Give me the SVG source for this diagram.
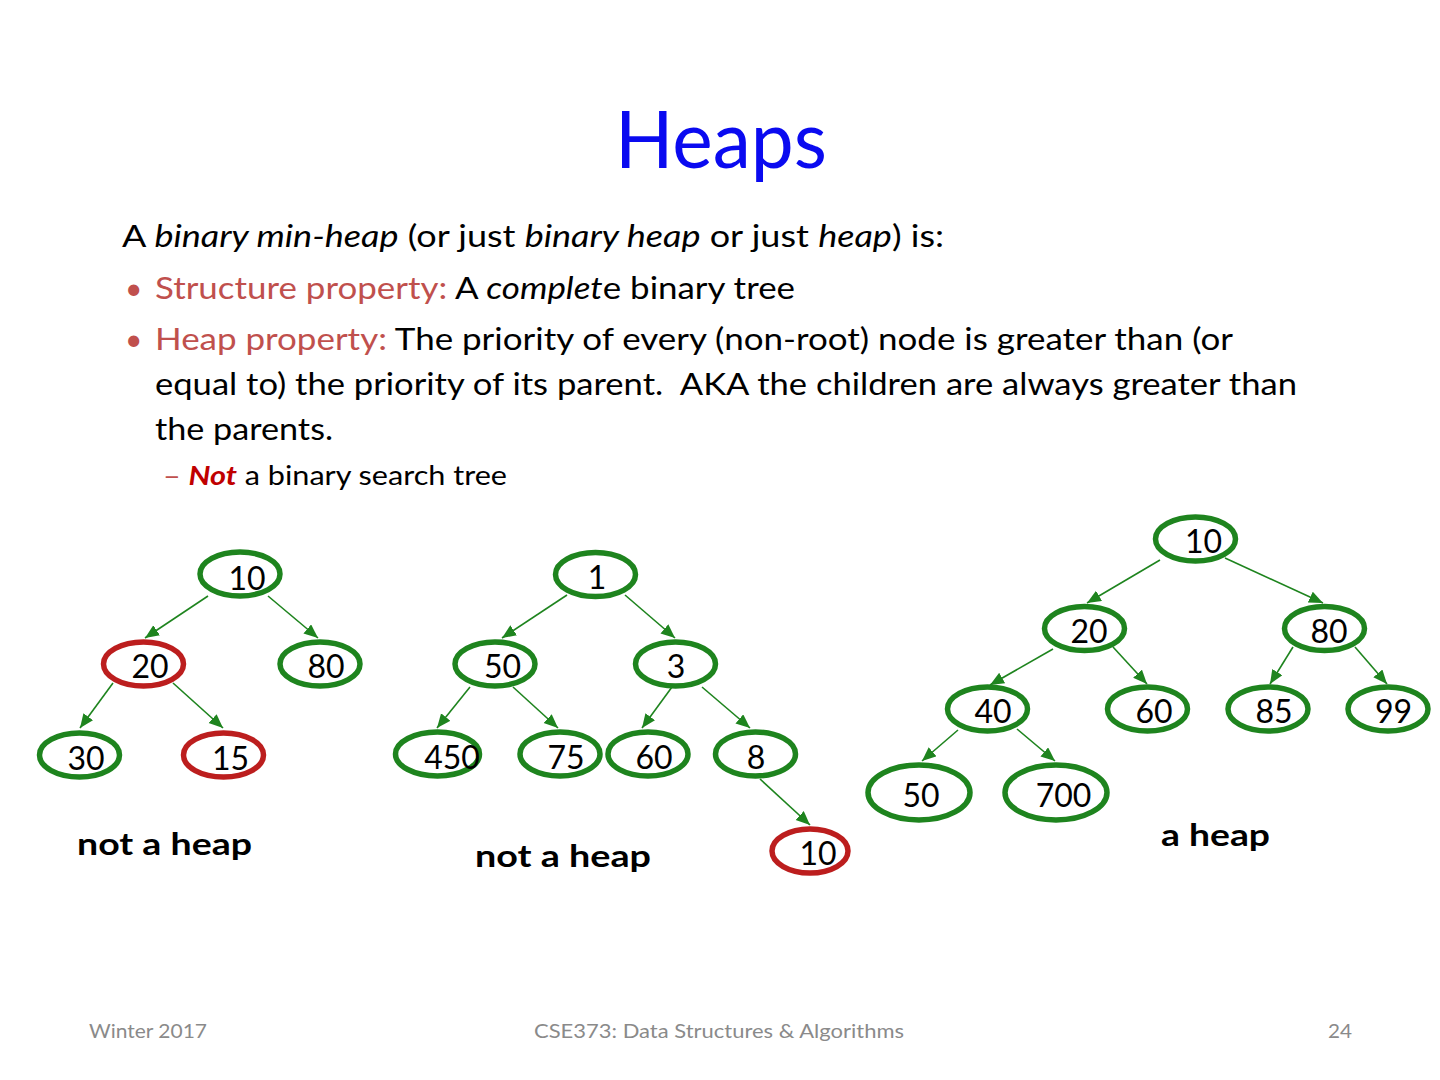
<svg xmlns="http://www.w3.org/2000/svg" width="1440" height="1080" viewBox="0 0 1440 1080">
<defs>
<style>
text{font-family:Lato,"Open Sans","Liberation Sans",sans-serif;}
.title{font-size:80px;fill:#0A0AF0;}
.body{font-size:30px;fill:#000;}
.sub{font-size:26px;fill:#000;}
.prop{fill:#C0504D;}
.it{font-style:italic;}
.num{font-size:32px;fill:#000;text-anchor:middle;}
.lbl{font-size:31px;font-weight:bold;fill:#000;}
.foot{font-size:19px;fill:#8A8A8A;}
.ng{fill:#fff;stroke:#1E841E;stroke-width:5.5;}
.nr{fill:#fff;stroke:#BC1E1E;stroke-width:5.5;}
.edge{stroke:#1E841E;stroke-width:1.6;fill:none;marker-end:url(#ah);}
</style>
<marker id="ah" markerUnits="userSpaceOnUse" markerWidth="16" markerHeight="14" refX="14" refY="6" orient="auto">
<path d="M0,0 L14,6 L0,12 Z" fill="#1E841E"/>
</marker>
</defs>
<rect width="1440" height="1080" fill="#fff"/>

<text class="title" x="615" y="168" textLength="212" lengthAdjust="spacingAndGlyphs">Heaps</text>

<text class="body" x="122" y="247" textLength="822" lengthAdjust="spacingAndGlyphs">A <tspan class="it">binary min-heap</tspan> (or just <tspan class="it">binary heap</tspan> or just <tspan class="it">heap</tspan>) is:</text>
<text class="body prop" x="125" y="299">•</text>
<text class="body" x="155" y="299" textLength="640" lengthAdjust="spacingAndGlyphs"><tspan class="prop">Structure property:</tspan> A <tspan class="it">complet</tspan>e binary tree</text>
<text class="body prop" x="125" y="350">•</text>
<text class="body" x="155" y="350" textLength="1078" lengthAdjust="spacingAndGlyphs"><tspan class="prop">Heap property:</tspan> The priority of every (non-root) node is greater than (or</text>
<text class="body" x="155" y="395" textLength="1142" lengthAdjust="spacingAndGlyphs" xml:space="preserve">equal to) the priority of its parent.  AKA the children are always greater than</text>
<text class="body" x="155" y="440" textLength="178" lengthAdjust="spacingAndGlyphs">the parents.</text>
<text class="sub" x="163" y="485" textLength="344" lengthAdjust="spacingAndGlyphs"><tspan class="prop">–</tspan> <tspan font-weight="bold" font-style="italic" fill="#C00000">Not</tspan> a binary search tree</text>

<g id="connectors">
<line class="edge" x1="208" y1="596" x2="145" y2="638"/>
<line class="edge" x1="268" y1="596" x2="318" y2="638"/>
<line class="edge" x1="113" y1="683" x2="80" y2="728"/>
<line class="edge" x1="173" y1="683" x2="223" y2="728"/>

<line class="edge" x1="567" y1="595" x2="502" y2="638"/>
<line class="edge" x1="625" y1="595" x2="675" y2="638"/>
<line class="edge" x1="470" y1="687" x2="437" y2="728"/>
<line class="edge" x1="513" y1="687" x2="558" y2="728"/>
<line class="edge" x1="672" y1="687" x2="642" y2="728"/>
<line class="edge" x1="702" y1="687" x2="750" y2="728"/>
<line class="edge" x1="760" y1="779" x2="810" y2="825"/>

<line class="edge" x1="1160" y1="560" x2="1087" y2="603"/>
<line class="edge" x1="1225" y1="558" x2="1323" y2="603"/>
<line class="edge" x1="1053" y1="649" x2="990" y2="685"/>
<line class="edge" x1="1113" y1="647" x2="1147" y2="684"/>
<line class="edge" x1="1293" y1="647" x2="1270" y2="684"/>
<line class="edge" x1="1355" y1="647" x2="1387" y2="684"/>
<line class="edge" x1="958" y1="730" x2="922" y2="761"/>
<line class="edge" x1="1017" y1="729" x2="1055" y2="761"/>
</g>

<!-- Tree 1 -->
<g id="t1-10"><ellipse class="ng" cx="240" cy="574" rx="40" ry="22"/><text class="num" x="247" y="590">10</text></g>
<g id="t1-20"><ellipse class="nr" cx="143.5" cy="664" rx="40" ry="22"/><text class="num" x="150" y="678">20</text></g>
<g id="t1-80"><ellipse class="ng" cx="320" cy="664" rx="40" ry="22"/><text class="num" x="326" y="678">80</text></g>
<g id="t1-30"><ellipse class="ng" cx="79.5" cy="755" rx="40" ry="22"/><text class="num" x="86" y="770">30</text></g>
<g id="t1-15"><ellipse class="nr" cx="223.5" cy="755" rx="40" ry="22"/><text class="num" x="230.5" y="770">15</text></g>
<text class="lbl" x="77" y="855" textLength="175" lengthAdjust="spacingAndGlyphs">not a heap</text>

<!-- Tree 2 -->
<g id="t2-1"><ellipse class="ng" cx="595.5" cy="574.5" rx="40" ry="22"/><text class="num" x="597" y="589">1</text></g>
<g id="t2-50"><ellipse class="ng" cx="495" cy="664" rx="40" ry="22"/><text class="num" x="502.5" y="678">50</text></g>
<g id="t2-3"><ellipse class="ng" cx="675.5" cy="664" rx="40" ry="22"/><text class="num" x="676" y="678">3</text></g>
<g id="t2-450"><ellipse class="ng" cx="437.5" cy="754" rx="42" ry="22"/><text class="num" x="452" y="769">450</text></g>
<g id="t2-75"><ellipse class="ng" cx="560" cy="754" rx="40" ry="22"/><text class="num" x="566" y="769">75</text></g>
<g id="t2-60"><ellipse class="ng" cx="648" cy="754" rx="40" ry="22"/><text class="num" x="654" y="769">60</text></g>
<g id="t2-8"><ellipse class="ng" cx="755.5" cy="754" rx="40" ry="22"/><text class="num" x="756" y="769">8</text></g>
<g id="t2-10"><ellipse class="nr" cx="810" cy="851" rx="38" ry="22"/><text class="num" x="818" y="865">10</text></g>
<text class="lbl" x="475" y="867" textLength="176" lengthAdjust="spacingAndGlyphs">not a heap</text>

<!-- Tree 3 -->
<g id="t3-10"><ellipse class="ng" cx="1195.5" cy="539" rx="40" ry="22"/><text class="num" x="1203.5" y="553">10</text></g>
<g id="t3-20"><ellipse class="ng" cx="1084.5" cy="628.5" rx="40" ry="22"/><text class="num" x="1089" y="643">20</text></g>
<g id="t3-80"><ellipse class="ng" cx="1324.5" cy="628.5" rx="40" ry="22"/><text class="num" x="1329" y="643">80</text></g>
<g id="t3-40"><ellipse class="ng" cx="987.5" cy="709" rx="40" ry="22"/><text class="num" x="993" y="723">40</text></g>
<g id="t3-60"><ellipse class="ng" cx="1147.5" cy="709" rx="40" ry="22"/><text class="num" x="1154" y="723">60</text></g>
<g id="t3-85"><ellipse class="ng" cx="1268" cy="709" rx="40" ry="22"/><text class="num" x="1274" y="723">85</text></g>
<g id="t3-99"><ellipse class="ng" cx="1388" cy="709" rx="40" ry="22"/><text class="num" x="1393.5" y="723">99</text></g>
<g id="t3-50"><ellipse class="ng" cx="919" cy="792.5" rx="51" ry="27.5"/><text class="num" x="921" y="807">50</text></g>
<g id="t3-700"><ellipse class="ng" cx="1056" cy="792.5" rx="51" ry="27.5"/><text class="num" x="1063.5" y="807">700</text></g>
<text class="lbl" x="1161" y="846" textLength="109" lengthAdjust="spacingAndGlyphs">a heap</text>

<text class="foot" x="89" y="1038" textLength="118" lengthAdjust="spacingAndGlyphs">Winter 2017</text>
<text class="foot" x="534" y="1038" textLength="370" lengthAdjust="spacingAndGlyphs">CSE373: Data Structures &amp; Algorithms</text>
<text class="foot" x="1328" y="1038" textLength="24" lengthAdjust="spacingAndGlyphs">24</text>
</svg>
